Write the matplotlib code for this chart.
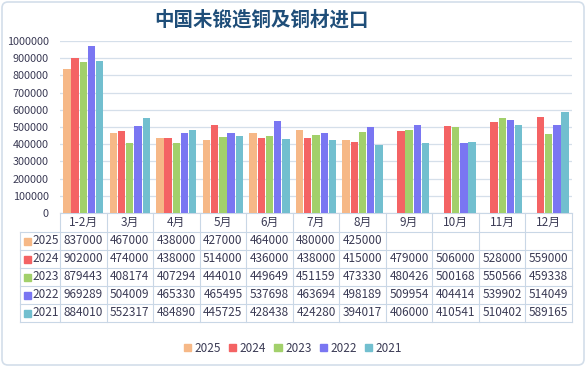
import numpy as np
import matplotlib.pyplot as plt
from matplotlib.patches import FancyBboxPatch, Rectangle

plt.rcParams['font.family'] = ['Noto Sans CJK SC', 'DejaVu Sans']

# data
months = ['1-2月', '3月', '4月', '5月', '6月', '7月', '8月', '9月', '10月', '11月', '12月']
years = ['2025', '2024', '2023', '2022', '2021']
v2025 = [837000, 467000, 438000, 427000, 464000, 480000, 425000, None, None, None, None]
v2024 = [902000, 474000, 438000, 514000, 436000, 438000, 415000, 479000, 506000, 528000, 559000]
v2023 = [879443, 408174, 407294, 444010, 449649, 451159, 473330, 480426, 500168, 550566, 459338]
v2022 = [969289, 504009, 465330, 465495, 537698, 463694, 498189, 509954, 404414, 539902, 514049]
v2021 = [884010, 552317, 484890, 445725, 428438, 424280, 394017, 406000, 410541, 510402, 589165]
series = [v2025, v2024, v2023, v2022, v2021]
colors = ['#F6B887', '#F46364', '#A2D06B', '#7A76F2', '#72BFCF']

W, H = 586, 367
fig = plt.figure(figsize=(W / 100, H / 100), dpi=100, facecolor='white')
fig.patches.append(FancyBboxPatch((2, 2), W - 4, H - 4, boxstyle='round,pad=0,rounding_size=6',
                                  transform=None, facecolor='none', edgecolor='#D3DEEA', lw=1.2,
                                  zorder=-1))

txt = '#3B3B55'
grid_c = '#D5DFEA'
line_c = '#C9D7E6'

# main chart axes (pixel placement)
x0, x1, ytop, ybot = 60, 572, 41, 213
ax = fig.add_axes([x0 / W, 1 - ybot / H, (x1 - x0) / W, (ybot - ytop) / H])
ax.set_facecolor('none')
n = len(months)
x = np.arange(n)
bw = 0.158
step = 0.176
for k, (vals, c) in enumerate(zip(series, colors)):
    xs = [x[i] + (k - 2) * step for i in range(n) if vals[i] is not None]
    ys = [vals[i] for i in range(n) if vals[i] is not None]
    ax.bar(xs, ys, width=bw, color=c, zorder=3)
ax.set_xlim(-0.5, n - 0.5)
ax.set_ylim(0, 1000000)
ax.set_yticks(np.arange(0, 1000001, 100000))
ax.set_yticklabels([str(v) for v in range(0, 1000001, 100000)])
ax.tick_params(axis='y', length=0, labelsize=7.8, labelcolor=txt, pad=8)
ax.set_xticks([])
ax.grid(axis='y', color=grid_c, lw=0.9, zorder=0)
for s in ['top', 'right', 'left']:
    ax.spines[s].set_visible(False)
ax.spines['bottom'].set_color(line_c)

fig.text(261 / W, 1 - 20 / H, '中国未锻造铜及铜材进口', ha='center', va='center',
         fontsize=14, fontweight='bold', color='#1F4E79')

# data table below chart
tl, tr, tt, tb = 20, 572, 213, 322
tax = fig.add_axes([tl / W, 1 - tb / H, (tr - tl) / W, (tb - tt) / H])
tax.axis('off')
lab_w = (x0 - tl) / ((x1 - x0) / n)
tax.set_xlim(-0.5 - lab_w, n - 0.5)
tax.set_ylim(tb - tt, 0)
hdr = 19
rh = 18
for i in range(n + 1):
    tax.plot([i - 0.5, i - 0.5], [0, hdr + rh * 5], color=line_c, lw=0.8, clip_on=False)
tax.plot([-0.5 - lab_w] * 2, [hdr, hdr + rh * 5], color=line_c, lw=0.8, clip_on=False)
for r in range(6):
    yy = hdr + rh * r
    tax.plot([-0.5 - lab_w, n - 0.5], [yy, yy], color=line_c, lw=0.8, clip_on=False)
for i, m in enumerate(months):
    tax.text(i, hdr / 2, m, ha='center', va='center', fontsize=8.5, color=txt)
for r, (yr, vals, c) in enumerate(zip(years, series, colors)):
    yc = hdr + rh * r + rh / 2
    tax.add_patch(Rectangle((-0.5 - lab_w + 0.08, yc - 3.5), 0.15, 7, color=c, clip_on=False))
    tax.text(-0.5 - lab_w + 0.26, yc, yr, ha='left', va='center', fontsize=8.5, color=txt)
    for i, v in enumerate(vals):
        if v is not None:
            tax.text(i, yc, str(v), ha='center', va='center', fontsize=8.5, color=txt)

# legend
handles = [Rectangle((0, 0), 1, 1, color=c) for c in colors]
fig.legend(handles, years, loc='center', bbox_to_anchor=(0.5, 1 - 348 / H), ncol=5,
           frameon=False, fontsize=8.5, labelcolor=txt, handlelength=0.6, handleheight=0.6,
           handletextpad=0.3, columnspacing=0.7)

fig.savefig('out.png', dpi=100)
